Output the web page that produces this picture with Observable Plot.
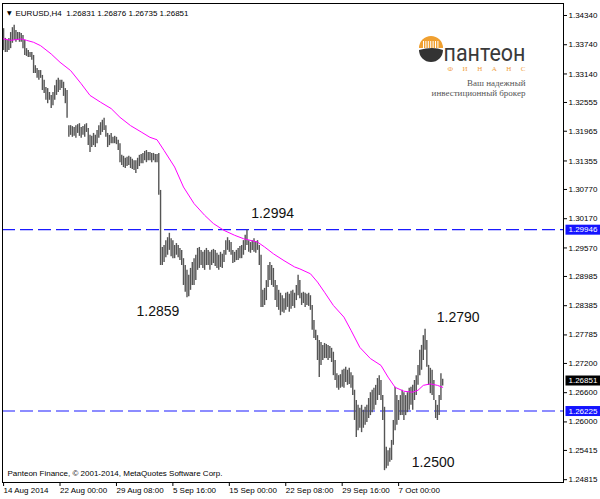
<!DOCTYPE html>
<html><head><meta charset="utf-8">
<script src="https://cdn.jsdelivr.net/npm/d3@7"></script>
<script src="https://cdn.jsdelivr.net/npm/@observablehq/plot@0.6"></script>
<style>html,body{margin:0;padding:0;background:#fff;}</style>
</head><body><div id="chart"></div>
<script>
const symbol = "EURUSD", timeframe = "H4";
const lastOHLC = [1.26831, 1.26876, 1.26735, 1.26851];
const highs = [
1.3407,1.3387,1.3383,1.3387,1.3399,1.3409,1.3414,1.3403,1.3399,1.3399,
1.3397,1.3393,1.3383,1.3366,1.3362,1.3358,1.3358,1.3352,1.3331,1.3325,
1.3321,1.3321,1.3311,1.3301,1.3286,1.3284,1.3276,1.3270,1.3276,1.3290,
1.3301,1.3305,1.3301,1.3301,1.3297,1.3284,1.3280,1.3208,1.3208,1.3206,
1.3204,1.3208,1.3210,1.3212,1.3204,1.3206,1.3210,1.3212,1.3202,1.3188,
1.3186,1.3192,1.3188,1.3198,1.3208,1.3214,1.3219,1.3223,1.3208,1.3192,
1.3188,1.3192,1.3184,1.3186,1.3184,1.3178,1.3171,1.3147,1.3145,1.3141,
1.3143,1.3145,1.3143,1.3139,1.3136,1.3136,1.3141,1.3147,1.3149,1.3151,
1.3155,1.3157,1.3153,1.3153,1.3151,1.3151,1.3149,1.3149,1.3151,1.3075,
1.2958,1.2962,1.2972,1.2978,1.2987,1.2976,1.2972,1.2962,1.2966,1.2962,
1.2956,1.2952,1.2935,1.2921,1.2911,1.2901,1.2915,1.2927,1.2935,1.2942,
1.2956,1.2958,1.2952,1.2948,1.2952,1.2956,1.2952,1.2948,1.2952,1.2954,
1.2952,1.2946,1.2942,1.2948,1.2944,1.2952,1.2972,1.2978,1.2972,1.2968,
1.2952,1.2948,1.2952,1.2956,1.2960,1.2962,1.2972,1.2983,1.2994,1.2972,
1.2968,1.2972,1.2976,1.2970,1.2972,1.2962,1.2942,1.2870,1.2874,1.2890,
1.2921,1.2927,1.2921,1.2915,1.2890,1.2880,1.2870,1.2864,1.2859,1.2853,
1.2864,1.2866,1.2862,1.2868,1.2870,1.2864,1.2880,1.2901,1.2890,1.2864,
1.2866,1.2864,1.2862,1.2864,1.2859,1.2839,1.2808,1.2788,1.2777,1.2767,
1.2763,1.2757,1.2761,1.2759,1.2757,1.2755,1.2751,1.2743,1.2726,1.2699,
1.2695,1.2697,1.2706,1.2708,1.2712,1.2706,1.2710,1.2701,1.2695,1.2665,
1.2644,1.2634,1.2628,1.2634,1.2624,1.2630,1.2634,1.2648,1.2660,1.2665,
1.2669,1.2675,1.2689,1.2695,1.2685,1.2654,1.2630,1.2548,1.2541,1.2546,
1.2562,1.2603,1.2671,1.2654,1.2644,1.2654,1.2665,1.2660,1.2654,1.2660,
1.2669,1.2671,1.2675,1.2685,1.2695,1.2716,1.2747,1.2757,1.2777,1.2790,
1.2767,1.2716,1.2710,1.2706,1.2685,1.2644,1.2634,1.2654,1.2699,1.26876
];
const lows = [
1.3362,1.3358,1.3358,1.3362,1.3366,1.3377,1.3383,1.3379,1.3383,1.3379,
1.3379,1.3366,1.3352,1.3350,1.3348,1.3348,1.3342,1.3315,1.3315,1.3305,
1.3301,1.3305,1.3280,1.3274,1.3260,1.3253,1.3260,1.3243,1.3249,1.3260,
1.3270,1.3276,1.3280,1.3284,1.3268,1.3253,1.3223,1.3184,1.3188,1.3184,
1.3186,1.3182,1.3192,1.3186,1.3182,1.3188,1.3184,1.3194,1.3167,1.3153,
1.3163,1.3167,1.3163,1.3171,1.3182,1.3188,1.3194,1.3198,1.3184,1.3163,
1.3167,1.3171,1.3171,1.3171,1.3169,1.3157,1.3132,1.3126,1.3122,1.3120,
1.3124,1.3126,1.3120,1.3118,1.3116,1.3110,1.3118,1.3124,1.3130,1.3130,
1.3136,1.3132,1.3136,1.3136,1.3132,1.3136,1.3132,1.3132,1.3065,1.2921,
1.2921,1.2927,1.2937,1.2942,1.2952,1.2939,1.2935,1.2935,1.2942,1.2937,
1.2931,1.2921,1.2880,1.2866,1.2855,1.2857,1.2870,1.2880,1.2880,1.2890,
1.2911,1.2915,1.2921,1.2915,1.2911,1.2921,1.2921,1.2911,1.2921,1.2925,
1.2919,1.2915,1.2911,1.2917,1.2915,1.2927,1.2942,1.2952,1.2948,1.2942,
1.2925,1.2927,1.2931,1.2931,1.2935,1.2935,1.2942,1.2952,1.2962,1.2948,
1.2946,1.2952,1.2948,1.2946,1.2952,1.2921,1.2835,1.2835,1.2839,1.2849,
1.2876,1.2890,1.2880,1.2876,1.2849,1.2835,1.2829,1.2818,1.2825,1.2823,
1.2829,1.2835,1.2825,1.2831,1.2837,1.2833,1.2849,1.2859,1.2853,1.2839,
1.2843,1.2835,1.2839,1.2837,1.2829,1.2788,1.2771,1.2767,1.2726,1.2691,
1.2716,1.2726,1.2730,1.2730,1.2726,1.2730,1.2722,1.2695,1.2685,1.2669,
1.2665,1.2669,1.2671,1.2669,1.2681,1.2675,1.2677,1.2669,1.2654,1.2603,
1.2568,1.2582,1.2587,1.2578,1.2587,1.2593,1.2599,1.2607,1.2613,1.2619,
1.2624,1.2634,1.2644,1.2654,1.2644,1.2603,1.2500,1.2504,1.2509,1.2517,
1.2521,1.2552,1.2582,1.2593,1.2603,1.2613,1.2613,1.2603,1.2613,1.2619,
1.2624,1.2634,1.2624,1.2644,1.2654,1.2675,1.2695,1.2706,1.2726,1.2747,
1.2712,1.2675,1.2658,1.2654,1.2644,1.2607,1.2603,1.2613,1.2644,1.26735
];
const maIdx = [0,4,10,13,17,21,27,32,38,44,49,55,61,66,72,78,83,87,91,97,102,108,114,119,125,131,136,144,148,153,159,165,168,174,178,182,187,193,197,202,208,214,218,222,227,232,235,238,242,246,249];
const maVal = [1.3386,1.3383,1.3386,1.3383,1.3379,1.3372,1.3355,1.3338,1.3321,1.3294,1.3270,1.3256,1.3243,1.3225,1.3208,1.3195,1.3184,1.3179,1.3157,1.3123,1.3082,1.3048,1.3024,1.3007,1.2993,1.2983,1.2976,1.2969,1.2959,1.2945,1.2931,1.2918,1.2914,1.2904,1.2887,1.2866,1.2839,1.2815,1.2788,1.2753,1.2730,1.2716,1.2692,1.2671,1.2663,1.2661,1.2665,1.2675,1.2678,1.2675,1.2671];
const yTicks = [1.34340,1.33740,1.33140,1.32555,1.31965,1.31355,1.30770,1.30170,1.29570,1.28985,1.28385,1.27785,1.27200,1.26600,1.26000,1.25415,1.24815];
const dateIdx = [0,32,64,96,128,160,192,224];
const dateLabels = ["14 Aug 2014","22 Aug 00:00","29 Aug 08:00","5 Sep 16:00","15 Sep 00:00","22 Sep 08:00","29 Sep 16:00","7 Oct 00:00"];
const levels = [1.29946, 1.26225];
const boxVals = [1.29946, 1.26851, 1.26225];
const boxColors = ["#1414ff", "#000000", "#1414ff"];
const noteText = ["1.2994","1.2859","1.2790","1.2500"];
const noteIdx = [140.4, 75.4, 245.6, 231.4];
const notePrice = [1.30267, 1.28266, 1.28133, 1.25158];
const footer = "Panteon Finance, \u00a9 2001-2014, MetaQuotes Software Corp.";
const logoName = "пантеон", logoSub = "Ф И Н А Н С", logoLine1 = "Ваш надежный", logoLine2 = "инвестиционный брокер";

const bars = highs.map((h, i) => ({i, high: h, low: lows[i]}));
const ma = maIdx.map((i, k) => ({i, v: maVal[k]}));
const notes = noteText.map((t, k) => ({t, i: noteIdx[k], p: notePrice[k]}));
const title = `${symbol},${timeframe}\u00a0\u00a0${lastOHLC.map(v => v.toFixed(5)).join(" ")}`;
const boxLabels = boxVals.map(v => v.toFixed(5));

const sans = "'Liberation Sans', Arial, sans-serif";
const serif = "'Liberation Serif', 'DejaVu Serif', serif";

const chart = Plot.plot({
  width: 600, height: 499,
  marginLeft: 2, marginRight: 37, marginTop: 3, marginBottom: 17,
  style: {fontFamily: sans, fontSize: "8px", background: "#fff", color: "#000", overflow: "visible"},
  x: {domain: [-0.62, 317.5], label: null},
  y: {domain: [1.24757, 1.34586], label: null},
  marks: [
    Plot.ruleY(levels, {stroke: "#1a1aff", strokeWidth: 1.1, strokeDasharray: "13,5"}),
    Plot.ruleX(bars, {x: "i", y1: "low", y2: "high", stroke: "#555", strokeWidth: 1.4}),
    Plot.line(ma, {x: "i", y: "v", stroke: "#ff00ff", strokeWidth: 1}),
    Plot.frame({stroke: "#000"}),
    Plot.axisY({anchor: "right", ticks: yTicks, tickFormat: d => d.toFixed(5), tickSize: 3, tickPadding: 2, label: null, fontSize: 8}),
    Plot.axisX({anchor: "bottom", ticks: dateIdx, tickFormat: d => dateLabels[dateIdx.indexOf(d)], tickSize: 4, tickPadding: 1, textAnchor: "start", label: null, fontSize: 8}),
    Plot.text(boxVals, {y: d => d, text: d => d.toFixed(5), frameAnchor: "right", dx: 5, textAnchor: "start", fill: "#fff", fontSize: 8}),
    Plot.text(notes, {x: "i", y: "p", text: "t", textAnchor: "start", fontSize: 14, fill: "#111"}),
    Plot.text(["\u25BC"], {frameAnchor: "top-left", dx: 4.5, dy: 7, fontSize: 6, fontFamily: "'DejaVu Sans', sans-serif", textAnchor: "start"}),
    Plot.text([title], {frameAnchor: "top-left", dx: 13, dy: 7, fontSize: 8, textAnchor: "start"}),
    Plot.text([footer], {frameAnchor: "bottom-left", dx: 5, dy: -7, fontSize: 8, textAnchor: "start"}),
    Plot.text([logoName], {frameAnchor: "top-right", dx: -38, dy: 41, fontSize: 23, fontFamily: "Roboto, 'Noto Sans', sans-serif", fill: "#3a3a3a", textAnchor: "end"}),
    Plot.text([logoSub], {frameAnchor: "top-right", dx: -38, dy: 63, fontSize: 7, fontFamily: serif, fill: "#f0a040", textAnchor: "end"}),
    Plot.text([logoLine1], {frameAnchor: "top-right", dx: -38, dy: 76, fontSize: 9, fontFamily: serif, fill: "#555", textAnchor: "end"}),
    Plot.text([logoLine2], {frameAnchor: "top-right", dx: -38, dy: 86, fontSize: 9, fontFamily: serif, fill: "#555", textAnchor: "end"})
  ]
});
document.getElementById("chart").append(chart);

const svgNode = chart.tagName.toLowerCase() === "svg" ? chart : chart.querySelector("svg");
const svg = d3.select(svgNode);
// price boxes behind the right-axis current / level labels
svg.selectAll("text").filter(function() { return boxLabels.includes(this.textContent); })
  .each(function() {
    const k = boxLabels.indexOf(this.textContent);
    const bb = this.getBBox();
    const r = document.createElementNS("http://www.w3.org/2000/svg", "rect");
    const t = this.getAttribute("transform");
    if (t) r.setAttribute("transform", t);
    r.setAttribute("x", bb.x - 3);
    r.setAttribute("y", bb.y - 0.5);
    r.setAttribute("width", bb.width + 10);
    r.setAttribute("height", bb.height + 1);
    r.setAttribute("fill", boxColors[k]);
    this.parentNode.insertBefore(r, this);
  });
svg.selectAll("text").filter(function() { return this.textContent === logoName; })
  .attr("textLength", 82).attr("lengthAdjust", "spacingAndGlyphs");
svg.selectAll("text").filter(function() { return this.textContent === logoSub; })
  .attr("textLength", 78).attr("lengthAdjust", "spacing");

// logo emblem
const g = svg.append("g");
g.append("path").attr("d", "M419,48 A12,12 0 0 1 443,48 Z").attr("fill", "#f0a030");
for (let k = 0; k < 7; k++) g.append("rect").attr("x", 423 + k * 2.4).attr("y", 41).attr("width", 1).attr("height", 7).attr("fill", "#fff");
g.append("path").attr("d", "M419,50 A12,12 0 0 0 443,50 Q433,46 419,50 Z").attr("fill", "#333");
</script>
</body></html>
